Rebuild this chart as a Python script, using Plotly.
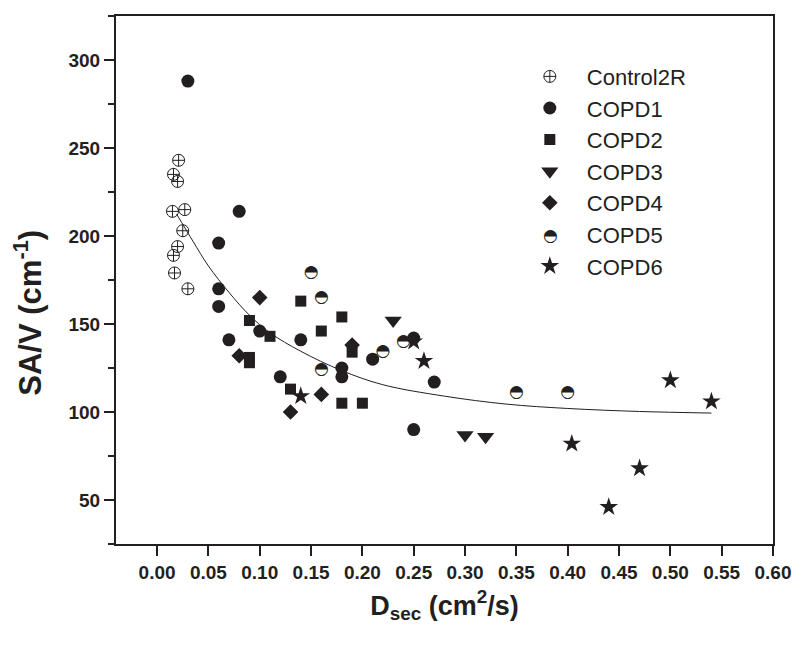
import plotly.graph_objects as go

# ---- data ----
ctrl_x = [0.021, 0.016, 0.020, 0.015, 0.027, 0.025, 0.020, 0.016, 0.017, 0.030]
ctrl_y = [243, 235, 231, 214, 215, 203, 194, 189, 179, 170]

copd1_x = [0.030, 0.080, 0.060, 0.060, 0.060, 0.070, 0.100, 0.140, 0.120, 0.180, 0.180, 0.210, 0.250, 0.270, 0.250]
copd1_y = [288, 214, 196, 170, 160, 141, 146, 141, 120, 125, 120, 130, 142, 117, 90]

copd2_x = [0.140, 0.180, 0.090, 0.160, 0.110, 0.190, 0.090, 0.090, 0.130, 0.180, 0.200]
copd2_y = [163, 154, 152, 146, 143, 134, 131, 128, 113, 105, 105]

copd3_x = [0.230, 0.300, 0.320]
copd3_y = [152, 87, 86]

copd4_x = [0.100, 0.080, 0.160, 0.130, 0.190]
copd4_y = [165, 132, 110, 100, 138]

copd5_x = [0.150, 0.160, 0.160, 0.220, 0.240, 0.350, 0.400]
copd5_y = [179, 165, 124, 134, 140, 111, 111]

copd6_x = [0.140, 0.250, 0.260, 0.404, 0.440, 0.470, 0.500, 0.540]
copd6_y = [109, 140, 129, 82, 46, 68, 118, 106]

fit_x = [0.019, 0.035, 0.05, 0.07, 0.09, 0.11, 0.14, 0.18, 0.22, 0.28, 0.34, 0.40, 0.47, 0.54]
fit_y = [212.5, 197, 183, 168, 155, 145, 134.5, 123.5, 115.5, 109, 104.5, 102, 100.3, 99.4]

x_ticks = [0.00, 0.05, 0.10, 0.15, 0.20, 0.25, 0.30, 0.35, 0.40, 0.45, 0.50, 0.55, 0.60]
y_ticks = [50, 100, 150, 200, 250, 300]

INK = "#231f20"
FONT = "Liberation Sans, Arial, sans-serif"

fig = go.Figure()

fig.add_trace(go.Scatter(x=fit_x, y=fit_y, mode="lines", line=dict(color=INK, width=1, shape="spline"),
                         showlegend=False, hoverinfo="skip"))

fig.add_trace(go.Scatter(x=ctrl_x, y=ctrl_y, mode="markers", name="Control2R",
                         marker=dict(symbol="circle-cross-open", size=12, color=INK, line=dict(width=1, color=INK))))
fig.add_trace(go.Scatter(x=copd1_x, y=copd1_y, mode="markers", name="COPD1",
                         marker=dict(symbol="circle", size=13, color=INK)))
fig.add_trace(go.Scatter(x=copd2_x, y=copd2_y, mode="markers", name="COPD2",
                         marker=dict(symbol="square", size=11, color=INK)))
fig.add_trace(go.Scatter(x=copd3_x, y=copd3_y, mode="markers", name="COPD3",
                         marker=dict(symbol="triangle-down", size=15, color=INK)))
fig.add_trace(go.Scatter(x=copd4_x, y=copd4_y, mode="markers", name="COPD4",
                         marker=dict(symbol="diamond", size=12, color=INK)))
# COPD5: half-filled circle drawn as glyph; legend entry with glyph annotation
fig.add_trace(go.Scatter(x=copd5_x, y=copd5_y, mode="text", text=["\u25d3"] * len(copd5_x),
                         textposition="middle center",
                         textfont=dict(family="DejaVu Sans", size=17, color=INK), showlegend=False))
fig.add_trace(go.Scatter(x=[None], y=[None], mode="markers", name="COPD5",
                         marker=dict(symbol="circle", size=12, color="rgba(0,0,0,0)")))
fig.add_trace(go.Scatter(x=copd6_x, y=copd6_y, mode="markers", name="COPD6",
                         marker=dict(symbol="star", size=14, color=INK)))

axis_common = dict(showline=True, linecolor=INK, linewidth=2, mirror=True, ticks="outside",
                   ticklen=10, tickwidth=2, tickcolor=INK, showgrid=False, zeroline=False,
                   tickfont=dict(family=FONT, size=19, color=INK, weight="bold"))

fig.update_layout(
    width=792, height=638,
    margin=dict(l=108, r=27, t=6, b=102),
    plot_bgcolor="white", paper_bgcolor="white",
    xaxis=dict(range=[-0.04, 0.6], tickvals=x_ticks, ticktext=[f"{v:.2f}" for v in x_ticks],
               title=dict(text="D<sub>sec</sub> (cm<sup>2</sup>/s)", standoff=14,
                          font=dict(family=FONT, size=27, color=INK, weight="bold")),
               **axis_common),
    yaxis=dict(range=[25, 325], tickvals=y_ticks,
               minor=dict(dtick=25, tick0=0, ticks="outside", ticklen=6, tickwidth=2, tickcolor=INK),
               **axis_common),
    legend=dict(x=0.604, y=0.925, xanchor="left", yanchor="top", bgcolor="rgba(0,0,0,0)",
                font=dict(family=FONT, size=22, color=INK), itemwidth=64),
    showlegend=True,
)

# y-axis title (placed a little below the axis centre, as in the reference)
fig.add_annotation(x=-0.134, y=0.438, xref="paper", yref="paper", text="SA/V (cm<sup>-1</sup>)",
                   textangle=-90, showarrow=False, xanchor="center", yanchor="middle",
                   font=dict(family=FONT, size=31, color=INK, weight="bold"))

# glyph for the COPD5 legend symbol, placed over the transparent legend marker
fig.add_annotation(x=0.6606, y=0.586, xref="paper", yref="paper", text="\u25d3", showarrow=False,
                   font=dict(family="DejaVu Sans", size=17, color=INK), xanchor="center", yanchor="middle")

fig.write_html("out.html")
